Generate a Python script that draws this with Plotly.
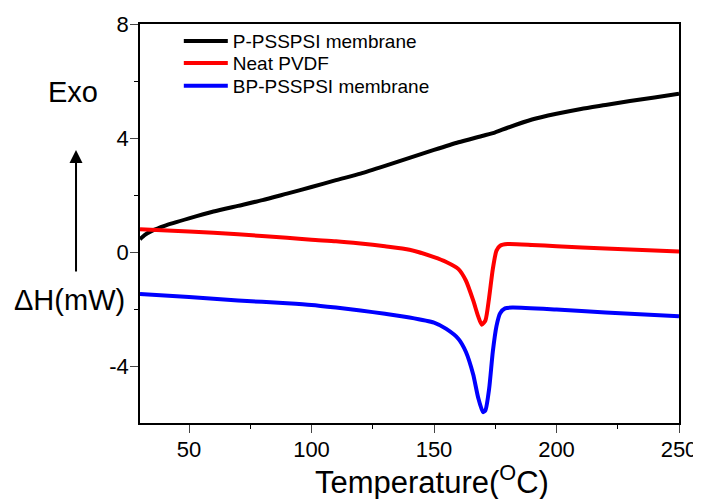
import plotly.graph_objects as go

black_T = [30, 32, 35, 40, 50, 60, 70, 80, 90, 100, 110, 120, 130, 140, 150, 160, 170, 175, 180, 190, 200, 210, 220, 230, 240, 250]
black_y = [0.45, 0.6, 0.75, 0.92, 1.18, 1.42, 1.62, 1.82, 2.05, 2.28, 2.52, 2.75, 3.02, 3.3, 3.58, 3.85, 4.08, 4.2, 4.36, 4.65, 4.85, 5.02, 5.16, 5.3, 5.42, 5.55]

red_T = [30, 50, 70, 90, 100, 110, 120, 130, 140, 150, 155, 160, 163, 166, 168, 169.5, 171, 172.5, 174, 175.5, 177, 180, 190, 200, 220, 250]
red_y = [0.8, 0.72, 0.62, 0.5, 0.43, 0.38, 0.3, 0.2, 0.08, -0.18, -0.35, -0.6, -1.0, -1.7, -2.25, -2.55, -2.4, -1.6, -0.6, 0.05, 0.22, 0.28, 0.25, 0.2, 0.12, 0.02]

blue_T = [30, 50, 70, 90, 100, 110, 120, 130, 140, 150, 155, 160, 163, 166, 168, 170, 171, 172.5, 174, 175.5, 177, 179, 182, 200, 220, 250]
blue_y = [-1.47, -1.58, -1.7, -1.8, -1.86, -1.95, -2.05, -2.17, -2.3, -2.48, -2.7, -3.05, -3.5, -4.3, -5.1, -5.62, -5.55, -4.8, -3.5, -2.6, -2.15, -1.98, -1.95, -2.02, -2.12, -2.25]

names = ["P-PSSPSI membrane", "Neat PVDF", "BP-PSSPSI membrane"]
x_ticks = [50, 100, 150, 200, 250]
y_ticks = [-4, 0, 4, 8]
y_ticktext = ["-4", "0", "4", "8"]

font = "Liberation Sans, Arial, sans-serif"
legend_ids = ["legend", "legend2", "legend3"]
legend_y = [0.957, 0.902, 0.845]

fig = go.Figure()
for T, y, n, c, lid in [(black_T, black_y, names[0], "black", legend_ids[0]),
                        (red_T, red_y, names[1], "#ff0000", legend_ids[1]),
                        (blue_T, blue_y, names[2], "#0000ff", legend_ids[2])]:
    fig.add_trace(go.Scatter(x=T, y=y, name=n, mode="lines", legend=lid,
                             line=dict(color=c, width=4, shape="spline", smoothing=0.6)))

legend_common = dict(x=0.072, xanchor="left", yanchor="middle",
                     font=dict(size=19, family=font), bgcolor="rgba(0,0,0,0)",
                     itemwidth=44)

fig.update_layout(
    width=693, height=491,
    margin=dict(l=132, r=22, t=16, b=76, autoexpand=False),
    plot_bgcolor="white", paper_bgcolor="white",
    font=dict(family=font, color="black"),
    showlegend=True,
    legend=dict(y=legend_y[0], **legend_common),
    legend2=dict(y=legend_y[1], **legend_common),
    legend3=dict(y=legend_y[2], **legend_common),
    xaxis=dict(range=[30, 250], tickvals=x_ticks, ticks="outside", ticklen=8,
               tickwidth=1.3, linecolor="black", linewidth=1.5, mirror=True,
               showgrid=False, zeroline=False, tickfont=dict(size=22), automargin=False,
               ticklabelstandoff=-2,
               minor=dict(tickvals=[75, 125, 175, 225], ticks="outside", ticklen=4, tickcolor="black")),
    yaxis=dict(range=[-6, 8], tickvals=y_ticks, ticktext=y_ticktext, ticks="outside", ticklen=8,
               tickwidth=1.3, linecolor="black", linewidth=1.5, mirror=True,
               showgrid=False, zeroline=False, tickfont=dict(size=22), automargin=False,
               ticklabelstandoff=-3,
               minor=dict(tickvals=[-2, 2, 6], ticks="outside", ticklen=4, tickcolor="black")),
)

fig.add_annotation(text="Temperature(<sup>O</sup>C)", xref="paper", yref="paper",
                   x=0.5417, y=-0.143, showarrow=False, font=dict(size=31),
                   xanchor="center", yanchor="middle")
fig.add_annotation(text="Exo", xref="paper", yref="paper", x=-0.1243, y=0.8296,
                   showarrow=False, font=dict(size=29), xanchor="center", yanchor="middle")
fig.add_annotation(text="ΔH(mW)", xref="paper", yref="paper", x=-0.13, y=0.308,
                   showarrow=False, font=dict(size=29), xanchor="center", yanchor="middle")
fig.add_annotation(text="", xref="paper", yref="paper", x=-0.1187, y=0.684,
                   ax=0, ay=123, axref="pixel", ayref="pixel",
                   showarrow=True, arrowhead=2, arrowsize=1.3, arrowwidth=2, arrowcolor="black")

fig.write_html("out.html")
